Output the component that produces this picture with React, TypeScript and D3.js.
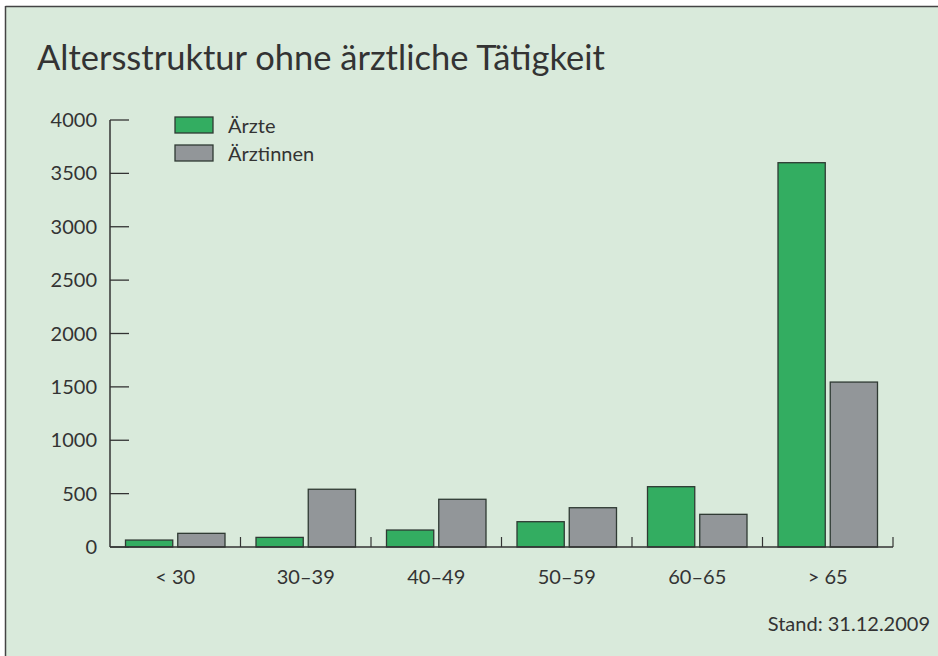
import React from "react";
import * as d3 from "d3";

const categories = ["< 30", "30–39", "40–49", "50–59", "60–65", "> 65"];
const aerzte = [65, 90, 159, 237, 565, 3600];
const aerztinnen = [128, 541, 447, 368, 306, 1545];
const seriesNames = ["Ärzte", "Ärztinnen"];
const yTicks = [0, 500, 1000, 1500, 2000, 2500, 3000, 3500, 4000];
const title = "Altersstruktur ohne ärztliche Tätigkeit";
const note = "Stand: 31.12.2009";

const W = 938, H = 656;
const FONT = "Lato, 'Open Sans', sans-serif";
const colors = ["#33ad61", "#929699"];
const textColor = "#333333";

export default function App() {
  const x0 = 110, x1 = 893, yTop = 120, yBase = 547;
  const x = d3.scaleBand<string>().domain(categories).range([x0, x1]).paddingInner(0).paddingOuter(0);
  const y = d3.scaleLinear().domain([0, 4000]).range([yBase, yTop]);
  const bw = x.bandwidth();
  const pad = 15.5;
  const gap = 5;
  const barW = (bw - 2 * pad - gap) / 2;
  const series = [aerzte, aerztinnen];

  return (
    <svg width={W} height={H} style={{ position: "absolute", left: 0, top: 0 }}>
      <rect x={0} y={0} width={W} height={H} fill="#ffffff" />
      <rect x={5} y={7} width={W} height={H} fill="#d9eadb" />
      <line x1={5.5} y1={6.5} x2={W} y2={6.5} stroke="#444" strokeWidth={1.5} />
      <line x1={5.5} y1={6} x2={5.5} y2={H} stroke="#444" strokeWidth={1.5} />
      <text x={37} y={70} fontFamily={FONT} fontSize={34.5} fill={textColor}>{title}</text>

      {/* y axis */}
      <line x1={x0} y1={yTop} x2={x0} y2={yBase} stroke="#333" strokeWidth={1.5} />
      {yTicks.map((t) => (
        <g key={t}>
          <line x1={x0} x2={x0 + 19} y1={y(t)} y2={y(t)} stroke="#333" strokeWidth={1.3} />
          <text x={97} y={y(t) + 7} textAnchor="end" fontFamily={FONT} fontSize={20} fill={textColor}>{t}</text>
        </g>
      ))}

      {/* bars */}
      {categories.map((c, i) => (
        <g key={c}>
          {series.map((s, j) => (
            <rect
              key={j}
              x={(x(c) as number) + pad + j * (barW + gap)}
              y={y(s[i])}
              width={barW}
              height={yBase - y(s[i])}
              fill={colors[j]}
              stroke="#2f3a33"
              strokeWidth={1.3}
            />
          ))}
        </g>
      ))}

      {/* x axis */}
      <line x1={x0} y1={yBase} x2={x1} y2={yBase} stroke="#333" strokeWidth={1.5} />
      {[...categories.map((c) => x(c) as number), x1].map((v, i) =>
        i === 0 ? null : <line key={i} x1={v} x2={v} y1={yBase} y2={yBase - 10} stroke="#333" strokeWidth={1.2} />
      )}
      {categories.map((c) => (
        <text key={c} x={(x(c) as number) + bw / 2} y={584} textAnchor="middle" fontFamily={FONT} fontSize={20} fill={textColor}>{c}</text>
      ))}

      {/* legend */}
      {seriesNames.map((n, j) => (
        <g key={n}>
          <rect x={175} y={117 + j * 28} width={38} height={16} fill={colors[j]} stroke="#2f3a33" strokeWidth={1.3} />
          <text x={228} y={133 + j * 28} fontFamily={FONT} fontSize={20} fill={textColor}>{n}</text>
        </g>
      ))}

      <text x={930} y={631} textAnchor="end" fontFamily={FONT} fontSize={20} fill={textColor}>{note}</text>
    </svg>
  );
}
